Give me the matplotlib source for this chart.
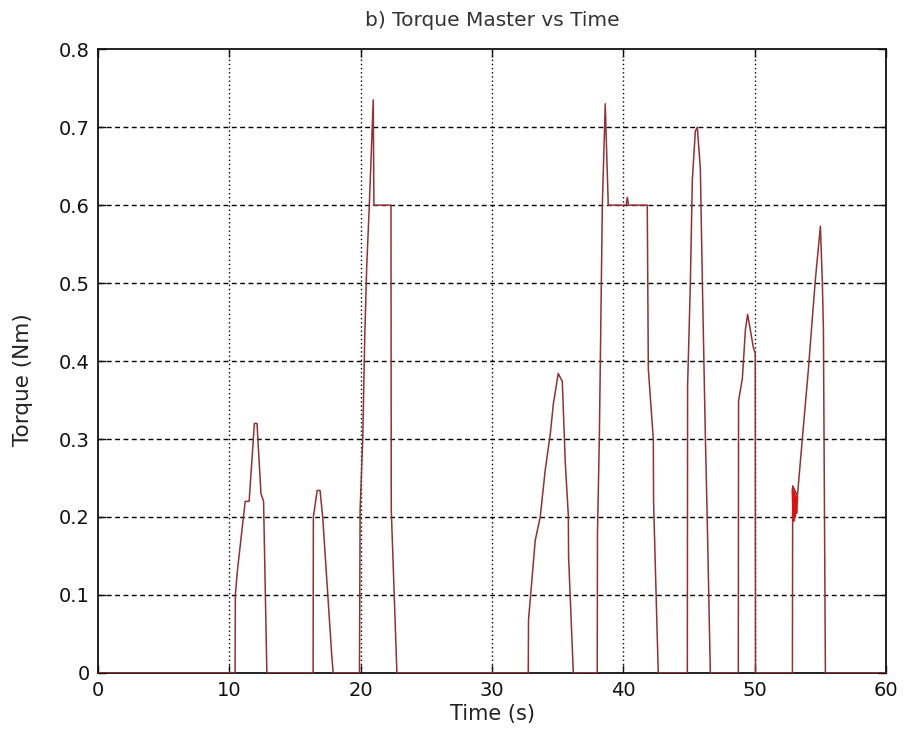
#!/usr/bin/env python3
"""
Torque master vs time, MATLAB-style pulse trace.
"""
import matplotlib
matplotlib.use("Agg")
import matplotlib.pyplot as plt

# trace (seconds, Nm)
time_s = [0.0,
          10.43, 10.45, 10.6, 11.2, 11.5, 11.9, 12.1, 12.4, 12.6, 12.85,
          16.37, 16.39, 16.68, 16.9, 17.1, 17.8, 17.9,
          19.9, 19.95, 20.15, 20.3, 20.45, 20.65, 20.85, 20.95, 21.0, 22.3, 22.32, 22.75,
          32.75, 32.77, 33.28, 33.66, 34.04, 34.43, 34.66, 35.03, 35.34, 35.57, 35.8, 35.82, 36.18,
          38.0, 38.02, 38.16, 38.39, 38.61, 38.84, 40.2, 40.29, 40.38, 41.81, 41.89, 42.27, 42.29, 42.57, 42.65,
          44.86, 44.88, 45.09, 45.24, 45.47, 45.62, 45.85, 46.0, 46.23, 46.38, 46.61,
          48.74, 48.76, 49.05, 49.28, 49.45, 49.89, 50.03, 50.05,
          52.86, 52.88, 53.24, 53.69, 54.07, 54.38, 54.61, 54.99, 55.14, 55.22, 55.37,
          60.0]
torque = [0.0,
          0.0, 0.1, 0.13, 0.22, 0.22, 0.32, 0.32, 0.23, 0.22, 0.0,
          0.0, 0.2, 0.234, 0.234, 0.2, 0.02, 0.0,
          0.0, 0.21, 0.3, 0.43, 0.52, 0.6, 0.69, 0.735, 0.6, 0.6, 0.21, 0.0,
          0.0, 0.068, 0.17, 0.2, 0.26, 0.307, 0.345, 0.384, 0.374, 0.269, 0.202, 0.149, 0.0,
          0.0, 0.18, 0.3, 0.6, 0.73, 0.6, 0.6, 0.61, 0.6, 0.6, 0.39, 0.3, 0.22, 0.046, 0.0,
          0.0, 0.368, 0.5, 0.632, 0.695, 0.70, 0.647, 0.505, 0.305, 0.193, 0.0,
          0.0, 0.349, 0.378, 0.44, 0.46, 0.417, 0.41, 0.0,
          0.0, 0.24, 0.227, 0.315, 0.388, 0.456, 0.505, 0.573, 0.5, 0.44, 0.0,
          0.0]

# short jittery bit near t = 53 s drawn in bright red
jitter_t = [52.88, 52.95, 53.0, 53.05, 53.1, 53.15, 53.22]
jitter_v = [0.235, 0.195, 0.232, 0.2, 0.226, 0.205, 0.225]

x_ticks = [0, 10, 20, 30, 40, 50, 60]
y_ticks = [0, 0.1, 0.2, 0.3, 0.4, 0.5, 0.6, 0.7, 0.8]
y_labels = ["0", "0.1", "0.2", "0.3", "0.4", "0.5", "0.6", "0.7", "0.8"]

plt.rcParams["font.family"] = ["DejaVu Sans"]

fig = plt.figure(figsize=(9.08, 7.46), dpi=100)
ax = fig.add_axes([0.108, 0.098, 0.868, 0.836])

# grid: dashed horizontals, dotted verticals
for y in y_ticks[1:-1]:
    ax.axhline(y, color="black", linewidth=1.0, linestyle=(0, (3.5, 2.5)), zorder=1)
for x in x_ticks[1:-1]:
    ax.axvline(x, color="black", linewidth=1.0, linestyle=(0, (1, 2)), zorder=1)

ax.plot(time_s, torque, color="#933035", linewidth=1.1, zorder=3)
ax.plot(jitter_t, jitter_v, color="#e01010", linewidth=1.6, zorder=4)

ax.set_xlim(0, 60)
ax.set_ylim(0, 0.8)
ax.set_xticks(x_ticks)
ax.set_yticks(y_ticks)
ax.set_yticklabels(y_labels)
ax.tick_params(direction="in", length=6, width=1, top=True, right=True,
               labelsize=14, pad=6, colors="#111111")
for s in ax.spines.values():
    s.set_linewidth(1.3)
    s.set_color("#111111")

ax.set_xlabel("Time (s)", fontsize=15, color="#222222", labelpad=3)
ax.set_ylabel("Torque (Nm)", fontsize=15.5, color="#222222")
ax.yaxis.set_label_coords(-0.082, 0.47)
ax.set_title("b) Torque Master vs Time", fontsize=14.5, color="#333333", pad=17)

plt.savefig("out.png", dpi=100)
